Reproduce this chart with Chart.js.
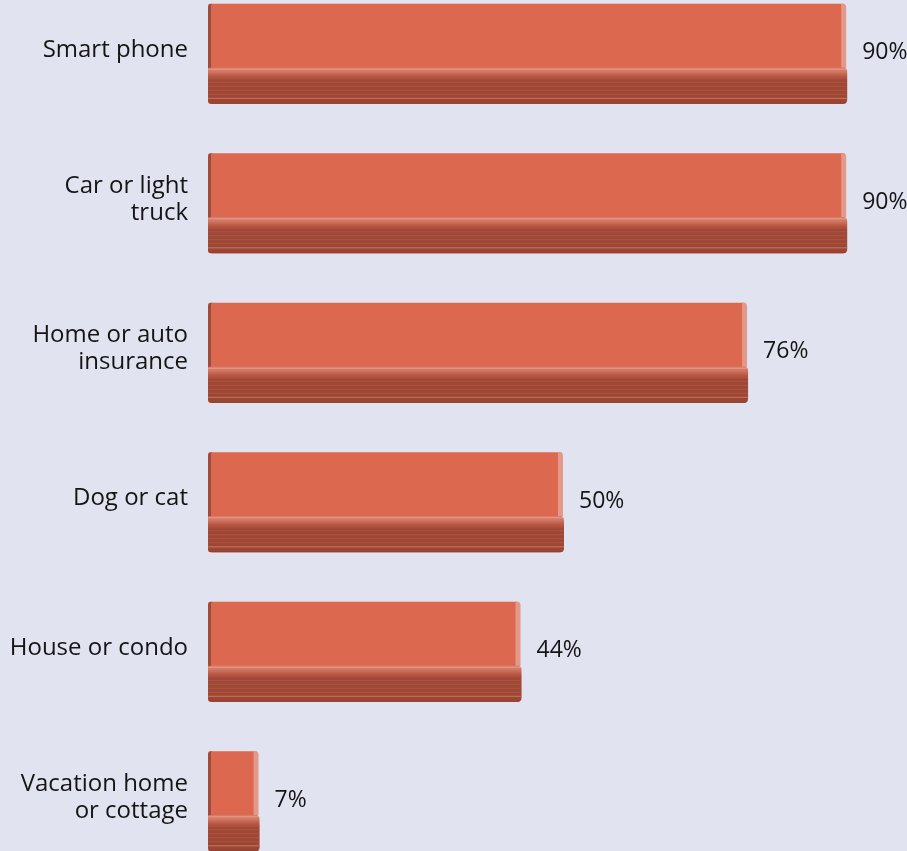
<!DOCTYPE html>
<html>
<head>
<meta charset="utf-8">
<script src="https://cdn.jsdelivr.net/npm/chart.js@4.4.1/dist/chart.umd.min.js"></script>
<style>
    html, body {
        margin: 0;
        padding: 0;
        width: 907px;
        height: 851px;
        overflow: hidden;
        background: #e1e3f1;
    }
    #wrap {
        position: absolute;
        left: 0;
        top: -21px;
        width: 916px;
        height: 897px;
    }
</style>
</head>
<body>
<div id="wrap"><canvas id="ownershipChart"></canvas></div>
<script>
// Share of respondents owning each item (%)
const categories = [
    'Smart phone',
    ['Car or light', 'truck'],
    ['Home or auto', 'insurance'],
    'Dog or cat',
    'House or condo',
    ['Vacation home', 'or cottage']
];
const shares = [90, 90, 76, 50, 44, 7];

const colors = {
    face: '#dc6850',
    leftEdge: '#a24a38',
    rightEdge: '#e2998a',
    baseLight: '#d9826f',
    baseMid: '#bd5a46',
    baseDark: '#a04835',
    stripe: '#ad5442',
    text: '#151515',
    bg: '#e1e3f1'
};

const FONT = "'Open Sans', sans-serif";

// Paints the extruded look on top of each plain bar: a darker plinth
// along the bottom, a shaded left side and a highlighted right side.
const bar3d = {
    id: 'bar3d',
    afterDatasetsDraw(chart) {
        const ctx = chart.ctx;
        const meta = chart.getDatasetMeta(0);
        ctx.save();
        meta.data.forEach(bar => {
            const left = bar.base;
            const right = bar.x;
            const h = bar.height;
            const top = bar.y - h / 2;
            const bottom = bar.y + h / 2;
            const plinthTop = top + h * 0.64;

            // left side shading
            ctx.fillStyle = colors.leftEdge;
            ctx.beginPath();
            ctx.moveTo(left, plinthTop);
            ctx.lineTo(left, top + 4);
            ctx.quadraticCurveTo(left, top, left + 4, top);
            ctx.lineTo(left + 4, plinthTop);
            ctx.closePath();
            ctx.fill();
            ctx.fillStyle = '#c9705c';
            ctx.fillRect(left + 3, top + 1, 1, plinthTop - top - 1);

            // right side highlight
            ctx.fillStyle = colors.rightEdge;
            ctx.beginPath();
            ctx.moveTo(right - 4, top);
            ctx.lineTo(right - 2, top);
            ctx.quadraticCurveTo(right + 1, top, right + 1, top + 4);
            ctx.lineTo(right + 1, plinthTop);
            ctx.lineTo(right - 4, plinthTop);
            ctx.closePath();
            ctx.fill();

            // plinth
            const g = ctx.createLinearGradient(0, plinthTop, 0, bottom);
            g.addColorStop(0, colors.baseLight);
            g.addColorStop(0.12, '#cf7461');
            g.addColorStop(0.22, colors.baseMid);
            g.addColorStop(0.35, colors.baseDark);
            g.addColorStop(1, '#9b4533');
            ctx.fillStyle = g;
            ctx.beginPath();
            ctx.moveTo(left, plinthTop + 2);
            ctx.quadraticCurveTo(left, plinthTop, left + 3, plinthTop);
            ctx.lineTo(right - 2, plinthTop);
            ctx.quadraticCurveTo(right + 2, plinthTop, right + 2, plinthTop + 4);
            ctx.lineTo(right + 2, bottom - 4);
            ctx.quadraticCurveTo(right + 2, bottom, right - 2, bottom);
            ctx.lineTo(left + 4, bottom);
            ctx.quadraticCurveTo(left, bottom, left, bottom - 4);
            ctx.closePath();
            ctx.fill();

            // thin horizontal banding across the plinth
            ctx.save();
            ctx.clip();
            ctx.fillStyle = colors.stripe;
            for (let y = plinthTop + 10; y < bottom - 3; y += 4) {
                ctx.fillRect(left, y, right - left + 2, 1);
            }
            ctx.fillStyle = '#e59a8a';
            ctx.fillRect(left, plinthTop + 1, right - left + 2, 1);
            ctx.fillStyle = '#c47262';
            ctx.fillRect(left, bottom - 6, right - left + 2, 1);
            ctx.fillStyle = '#8f3f2e';
            ctx.fillRect(left, bottom - 1, right - left + 2, 1);
            ctx.restore();
        });
        ctx.restore();
    }
};

// Percentage printed just past the end of each bar
const valueLabels = {
    id: 'valueLabels',
    afterDatasetsDraw(chart) {
        const ctx = chart.ctx;
        const meta = chart.getDatasetMeta(0);
        ctx.save();
        ctx.font = `23px ${FONT}`;
        ctx.fillStyle = colors.text;
        ctx.textAlign = 'left';
        ctx.textBaseline = 'middle';
        meta.data.forEach((bar, i) => {
            ctx.fillText(shares[i] + '%', bar.x + 17, bar.y - 1);
        });
        ctx.restore();
    }
};

new Chart(document.getElementById('ownershipChart'), {
    type: 'bar',
    data: {
        labels: categories,
        datasets: [{
            data: shares,
            backgroundColor: colors.face,
            borderWidth: 0,
            borderRadius: 2,
            borderSkipped: false,
            categoryPercentage: 1,
            barPercentage: 0.67
        }]
    },
    options: {
        indexAxis: 'y',
        responsive: true,
        maintainAspectRatio: false,
        animation: false,
        layout: { padding: 0 },
        scales: {
            x: {
                display: false,
                min: 0,
                max: 100
            },
            y: {
                grid: { display: false, drawTicks: false },
                border: { display: false },
                ticks: {
                    color: colors.text,
                    padding: 20,
                    labelOffset: -4,
                    font: { family: FONT, size: 24, lineHeight: 1.13 }
                },
                afterFit(scale) {
                    // fixed gutter for the category names, no extra room above/below
                    scale.width = 208;
                    scale.paddingTop = 0;
                    scale.paddingBottom = 0;
                }
            }
        },
        plugins: {
            legend: { display: false },
            tooltip: { enabled: false }
        }
    },
    plugins: [bar3d, valueLabels]
});
</script>
</body>
</html>
